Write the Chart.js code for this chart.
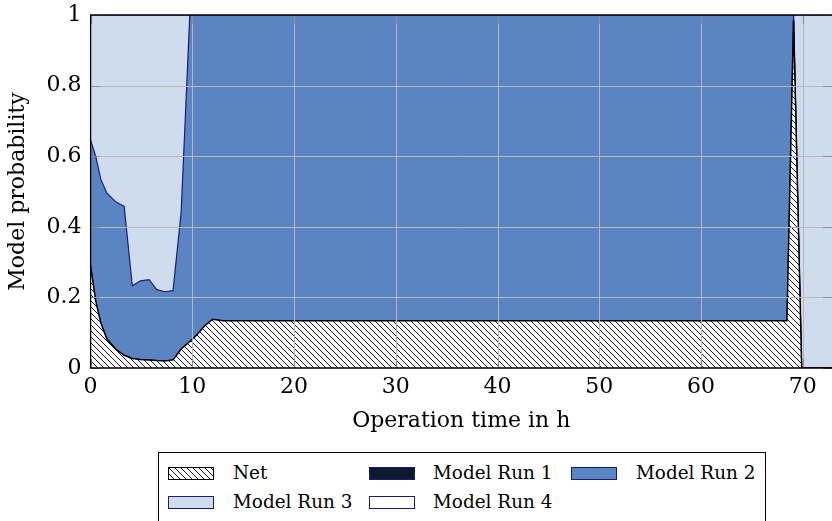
<!DOCTYPE html>
<html>
<head>
<meta charset="utf-8">
<script src="https://cdn.jsdelivr.net/npm/chart.js@4/dist/chart.umd.min.js"></script>
<style>
  html, body { margin: 0; padding: 0; background: #fff; overflow: hidden; }
  #wrap { position: relative; width: 832px; height: 521px; overflow: hidden; }
  canvas { position: absolute; left: 0; top: 0; }
  #legend { position: absolute; left: 158px; top: 452px; width: 608px; height: 90px;
            border: 1.3px solid #000; box-sizing: border-box; background: #fff; }
  .sw { position: absolute; width: 46px; height: 13px; box-sizing: border-box; border: 1.3px solid #1a1a7e; }
  .lt { position: absolute; font-family: "DejaVu Serif", serif; font-size: 18.4px; line-height: 22px; color: #000; white-space: nowrap; }
</style>
</head>
<body>
<div id="wrap">
  <canvas id="c" width="832" height="521"></canvas>
  <div id="legend"></div>
</div>
<script>
// ---- data ----
const times      = [0, 0.5, 1.0, 1.6, 2.5, 3.3, 4.1, 4.9, 5.75, 6.5, 7.3, 8.1, 8.9, 9.75, 10.4, 11.2, 12.0, 13.0, 68.45, 69.1, 69.9, 73.5];
const netValues  = [0.29, 0.19, 0.128, 0.082, 0.053, 0.036, 0.027, 0.024, 0.023, 0.021, 0.02, 0.023, 0.054, 0.075, 0.093, 0.119, 0.138, 0.134, 0.134, 0.985, 0, 0];
const run1Values = [0, 0, 0, 0, 0, 0, 0, 0, 0, 0, 0, 0, 0, 0, 0, 0, 0, 0, 0, 0.015, 0, 0];
const run2Values = [0.355, 0.41, 0.407, 0.413, 0.417, 0.422, 0.206, 0.223, 0.227, 0.201, 0.196, 0.196, 0.386, 0.925, 0.907, 0.881, 0.862, 0.866, 0.866, 0, 0, 0];
const run3Values = [0.355, 0.40, 0.465, 0.505, 0.53, 0.542, 0.767, 0.753, 0.75, 0.778, 0.784, 0.781, 0.56, 0, 0, 0, 0, 0, 0, 0, 1, 1];
const run4Values = [0, 0, 0, 0, 0, 0, 0, 0, 0, 0, 0, 0, 0, 0, 0, 0, 0, 0, 0, 0, 0, 0];
const seriesNames = ['Net', 'Model Run 1', 'Model Run 2', 'Model Run 3', 'Model Run 4'];
const xTitle = 'Operation time in h';
const yTitle = 'Model probability';

// ---- styles ----
const NAVY = '#1a1a7e';
const GRID = '#b8b8b8';
const TICK = '#8f8f8f';
const FONT = { family: 'DejaVu Serif', size: 22 };

function makeHatch() {
  const s = 6;
  const c = document.createElement('canvas');
  c.width = s; c.height = s;
  const g = c.getContext('2d');
  g.fillStyle = '#fff'; g.fillRect(0, 0, s, s);
  g.strokeStyle = '#000'; g.lineWidth = 0.9;
  g.beginPath();
  g.moveTo(-1, -1); g.lineTo(s + 1, s + 1);
  g.moveTo(-1, s - 1); g.lineTo(1, s + 1);
  g.moveTo(s - 1, -1); g.lineTo(s + 1, 1);
  g.stroke();
  return c;
}
const hatchCanvas = makeHatch();
const hatch = document.getElementById('c').getContext('2d').createPattern(hatchCanvas, 'repeat');

const toPts = vals => times.map((t, i) => ({ x: t, y: vals[i] }));

const fills   = [hatch, '#0c1a30', '#5b84c3', '#cfdcee', '#ffffff'];
const borders = ['#000000', NAVY, NAVY, NAVY, NAVY];
const widths  = [1.5, 1, 1.2, 1, 1];
const valueSets = [netValues, run1Values, run2Values, run3Values, run4Values];

const datasets = valueSets.map((v, i) => ({
  label: seriesNames[i],
  data: toPts(v),
  backgroundColor: fills[i],
  borderColor: borders[i],
  borderWidth: widths[i],
  fill: i === 0 ? 'origin' : '-1',
  pointRadius: 0,
  tension: 0
}));

const overlay = {
  id: 'overlay',
  afterDatasetsDraw(chart) {
    const { ctx, chartArea: a, scales: { x, y } } = chart;
    ctx.save();
    // grid on top of the areas
    ctx.strokeStyle = GRID; ctx.lineWidth = 1;
    ctx.beginPath();
    x.ticks.forEach(t => {
      if (t.value <= x.min) return;
      const px = Math.round(x.getPixelForValue(t.value)) + 0.5;
      ctx.moveTo(px, a.top); ctx.lineTo(px, a.bottom);
    });
    y.ticks.forEach(t => {
      if (t.value <= y.min || t.value >= y.max) return;
      const py = Math.round(y.getPixelForValue(t.value)) + 0.5;
      ctx.moveTo(a.left, py); ctx.lineTo(a.right, py);
    });
    ctx.stroke();
    // inner tick marks
    const L = 9;
    ctx.strokeStyle = TICK; ctx.lineWidth = 1.2;
    ctx.beginPath();
    x.ticks.forEach(t => {
      const px = Math.round(x.getPixelForValue(t.value)) + 0.5;
      ctx.moveTo(px, a.bottom); ctx.lineTo(px, a.bottom - L);
      ctx.moveTo(px, a.top); ctx.lineTo(px, a.top + L);
    });
    y.ticks.forEach(t => {
      const py = Math.round(y.getPixelForValue(t.value)) + 0.5;
      ctx.moveTo(a.left, py); ctx.lineTo(a.left + L, py);
      ctx.moveTo(a.right, py); ctx.lineTo(a.right - L, py);
    });
    ctx.stroke();
    // frame
    ctx.strokeStyle = '#000'; ctx.lineWidth = 1.3;
    ctx.beginPath();
    ctx.moveTo(a.right + 2, a.top); ctx.lineTo(a.left, a.top);
    ctx.lineTo(a.left, a.bottom); ctx.lineTo(a.right + 2, a.bottom);
    ctx.stroke();
    ctx.restore();
  }
};

new Chart(document.getElementById('c'), {
  type: 'line',
  data: { datasets },
  plugins: [overlay],
  options: {
    responsive: false,
    animation: false,
    layout: { padding: { left: 0, right: 0, top: 15, bottom: 87 } },
    plugins: { legend: { display: false }, tooltip: { enabled: false } },
    scales: {
      x: {
        type: 'linear', min: 0, max: 72.88,
        grid: { display: false, drawTicks: false },
        border: { display: false },
        ticks: { stepSize: 10, includeBounds: false, padding: 6, font: FONT, color: '#000', maxRotation: 0 },
        title: { display: true, text: xTitle, font: FONT, color: '#000', padding: { top: 0, bottom: 0 } },
        afterFit(s) { s.height = 66; }
      },
      y: {
        stacked: true, min: 0, max: 1,
        grid: { display: false, drawTicks: false },
        border: { display: false },
        ticks: { stepSize: 0.2, padding: 9, font: { family: 'DejaVu Serif', size: 22, lineHeight: 0.5 }, color: '#000',
                 callback: v => String(Math.round(v * 10) / 10) },
        title: { display: true, text: yTitle, font: FONT, color: '#000', padding: { top: 5, bottom: 0 } },
        afterFit(s) { s.width = 90.6; }
      }
    }
  }
});

// ---- legend (HTML, real text) ----
const legend = document.getElementById('legend');
const legendPos = [
  { sx: 9, sy: 14, tx: 74 },    // Net
  { sx: 210, sy: 14, tx: 274 }, // Run 1
  { sx: 412, sy: 14, tx: 477 }, // Run 2
  { sx: 9, sy: 43, tx: 74 },    // Run 3
  { sx: 210, sy: 43, tx: 274 }  // Run 4
];
seriesNames.forEach((name, i) => {
  const p = legendPos[i];
  const sw = document.createElement('div');
  sw.className = 'sw';
  sw.style.left = p.sx + 'px'; sw.style.top = p.sy + 'px';
  if (i === 0) {
    sw.style.border = '1px solid #000';
    sw.style.backgroundImage = 'url(' + hatchCanvas.toDataURL() + ')';
  } else {
    sw.style.background = fills[i];
  }
  legend.appendChild(sw);
  const tx = document.createElement('div');
  tx.className = 'lt';
  tx.textContent = name;
  tx.style.left = p.tx + 'px'; tx.style.top = (p.sy - 5) + 'px';
  legend.appendChild(tx);
});
</script>
</body>
</html>
